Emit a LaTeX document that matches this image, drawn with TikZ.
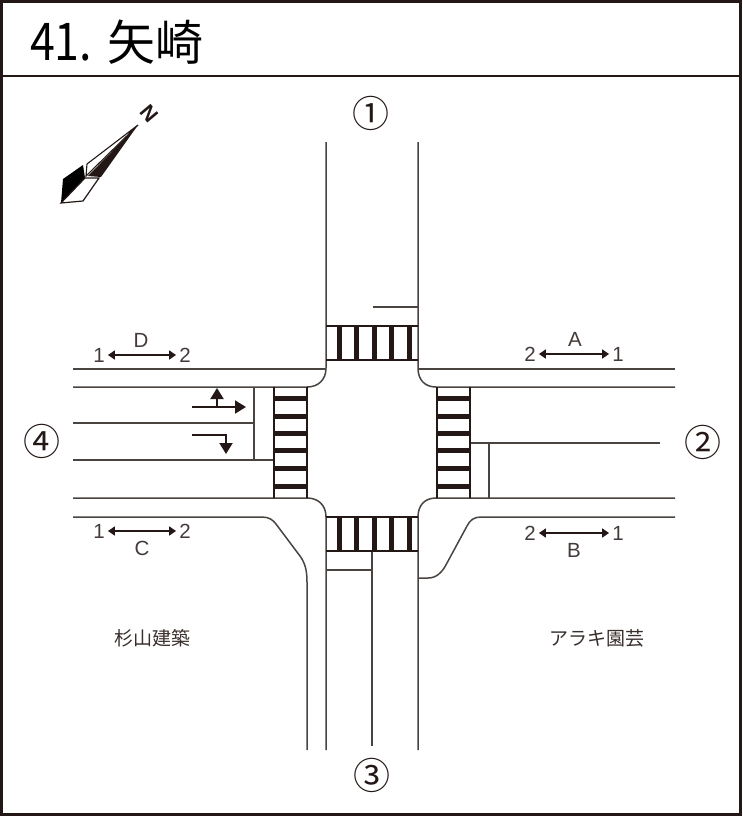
\documentclass[tikz,border=0pt]{standalone}
\usepackage{fontspec}
\setmainfont{Liberation Sans}
\newfontfamily\jpfont{Noto Sans CJK JP}
\usetikzlibrary{arrows.meta}
\definecolor{roadgray}{HTML}{4A4441}
\definecolor{inkblack}{HTML}{231815}
\tikzset{
  road_line/.style = {draw=roadgray, line width=1.5pt},
  walk_edge/.style = {draw=inkblack, line width=2.4pt},
  walk_bar/.style = {draw=inkblack, line width=5pt},
  dir_label/.style = {inner sep=0pt, text=inkblack!85, font=\fontsize{20.5}{20.5}\selectfont},
  dir_arrow/.style = {{Triangle[length=7pt,width=9pt]}-{Triangle[length=7pt,width=9pt]}, draw=inkblack, line width=1.6pt},
  lane_arrow/.style = {-{Triangle[length=11pt,width=13pt]}, draw=inkblack, line width=1.9pt},
  arm_label/.style = {inner sep=0pt, text=inkblack, font=\jpfont\fontsize{37}{37}\selectfont},
  shop_label/.style = {inner sep=0pt, text=inkblack!90, font=\jpfont\fontsize{19}{19}\selectfont}
}

\begin{document}
\begin{tikzpicture}[x=1pt,y=-1pt]
\useasboundingbox (0,0) rectangle (742,816);

% frame and title
\draw[draw=inkblack, line width=2.6pt] (1.5,1.5) rectangle (740.5,814.5);
\draw[draw=inkblack, line width=2.6pt] (1.5,76) -- (740.5,76);
\node[anchor=base west, inner sep=0pt, xscale=.86, transform shape, font=\jpfont\fontsize{52}{52}\selectfont] (title_no) at (30,60) {41.};
\node[anchor=base west, inner sep=0pt, font=\jpfont\fontsize{48}{48}\selectfont] (title_name) at (107,60) {矢崎};

% north mark
\fill[black] (63,179) -- (83,165) -- (85,178) -- (61,203) -- cycle;
\draw[draw=inkblack, line width=1.2pt, fill=white] (61,203) -- (83,201) -- (99,178) -- (85,178) -- cycle;
\draw[draw=inkblack, line width=1.1pt, fill=white] (138,125) -- (87,164) -- (86,176) -- cycle;
\fill[inkblack] (138,125) -- (88,176) -- (101,177) -- cycle;
\node[rotate=-50, inner sep=0pt, text=inkblack, font=\bfseries\fontsize{21}{21}\selectfont] (north) at (149,114) {N};

% arm numbers
\node[arm_label] (arm1) at (371,113) {①};
\node[arm_label] (arm2) at (703,442) {②};
\node[arm_label] (arm3) at (372,775) {③};
\node[arm_label] (arm4) at (42,441) {④};

% north arm
\draw[road_line] (326,142) -- (326,368) .. controls (326,380) and (318,387) .. (307,387) -- (73,387);
\draw[road_line] (418,142) -- (418,368) .. controls (418,380) and (425,387) .. (436,387) -- (675,387);
\draw[road_line] (373,307) -- (418,307);
\draw[road_line] (73,369) -- (326,369);
\draw[road_line] (418,369) -- (675,369);

% south arm
\draw[road_line] (73,498) -- (307,498) .. controls (318,498) and (326,505) .. (326,517) -- (326,750);
\draw[road_line] (675,498) -- (436,498) .. controls (425,498) and (418,505) .. (418,517) -- (418,750);
\draw[road_line] (372,551) -- (372,746);
\draw[road_line] (326,570) -- (372,570);

% west arm
\draw[road_line] (73,423) -- (254,423);
\draw[road_line] (73,460) -- (274,460);
\draw[road_line] (254,387) -- (254,460);
\draw[road_line] (73,517) -- (262,517) .. controls (269,517) and (273,520) .. (276,524) -- (300,556) .. controls (305,563) and (307,570) .. (307,582) -- (307,750);

% east arm
\draw[road_line] (470,443) -- (660,443);
\draw[road_line] (489,443) -- (489,498);
\draw[road_line] (675,517) -- (481,517) .. controls (474,517) and (470,520) .. (467,526) -- (447,563) .. controls (442,573) and (436,578) .. (428,578) -- (418,578);

% crossings
\foreach \y in {326,360,517,551}{
 \draw[walk_edge] (326,\y) -- (418,\y);
}
\foreach \x in {274,307,437,470}{
 \draw[walk_edge] (\x,387) -- (\x,498);
}
\foreach \x in {339.5,356.5,374,391.5,409}{
 \draw[walk_bar] (\x,326) -- (\x,360);
 \draw[walk_bar] (\x,517) -- (\x,551);
}
\foreach \y in {398,416,433,450,468,486}{
 \draw[walk_bar] (274,\y) -- (307,\y);
 \draw[walk_bar] (437,\y) -- (470,\y);
}

% direction labels
\foreach \n/\a/\b/\ax/\bx/\y/\t/\lx/\ly in {
  d/1/2/99/185/355/D/141/340,
  c/1/2/99/185/531/C/142/548,
  a/2/1/530/618/354/A/575/339,
  b/2/1/530/618/533/B/574/550}{
 \node[dir_label] (\n_left) at (\ax,\y) {\a};
 \node[dir_label] (\n_right) at (\bx,\y) {\b};
 \node[dir_label] (\n_name) at (\lx,\ly) {\t};
 \draw[dir_arrow] ([xshift=3pt]\n_left.east) -- ([xshift=-3pt]\n_right.west);
}

% lane arrows
\coordinate (through_from) at (192,407);
\coordinate (through_to) at (246,407);
\coordinate (through_mid) at (217,407);
\coordinate (up_to) at (217,388);
\coordinate (turn_from) at (192,435);
\coordinate (turn_to) at (226,454);
\draw[lane_arrow] (through_from) -- (through_to);
\draw[lane_arrow] (through_mid) -- (up_to);
\draw[lane_arrow] (turn_from) -| (turn_to);

% shops
\node[shop_label] (shop_west) at (152.5,638) {杉山建築};
\node[shop_label] (shop_east) at (597,638) {アラキ園芸};
\end{tikzpicture}
\end{document}
